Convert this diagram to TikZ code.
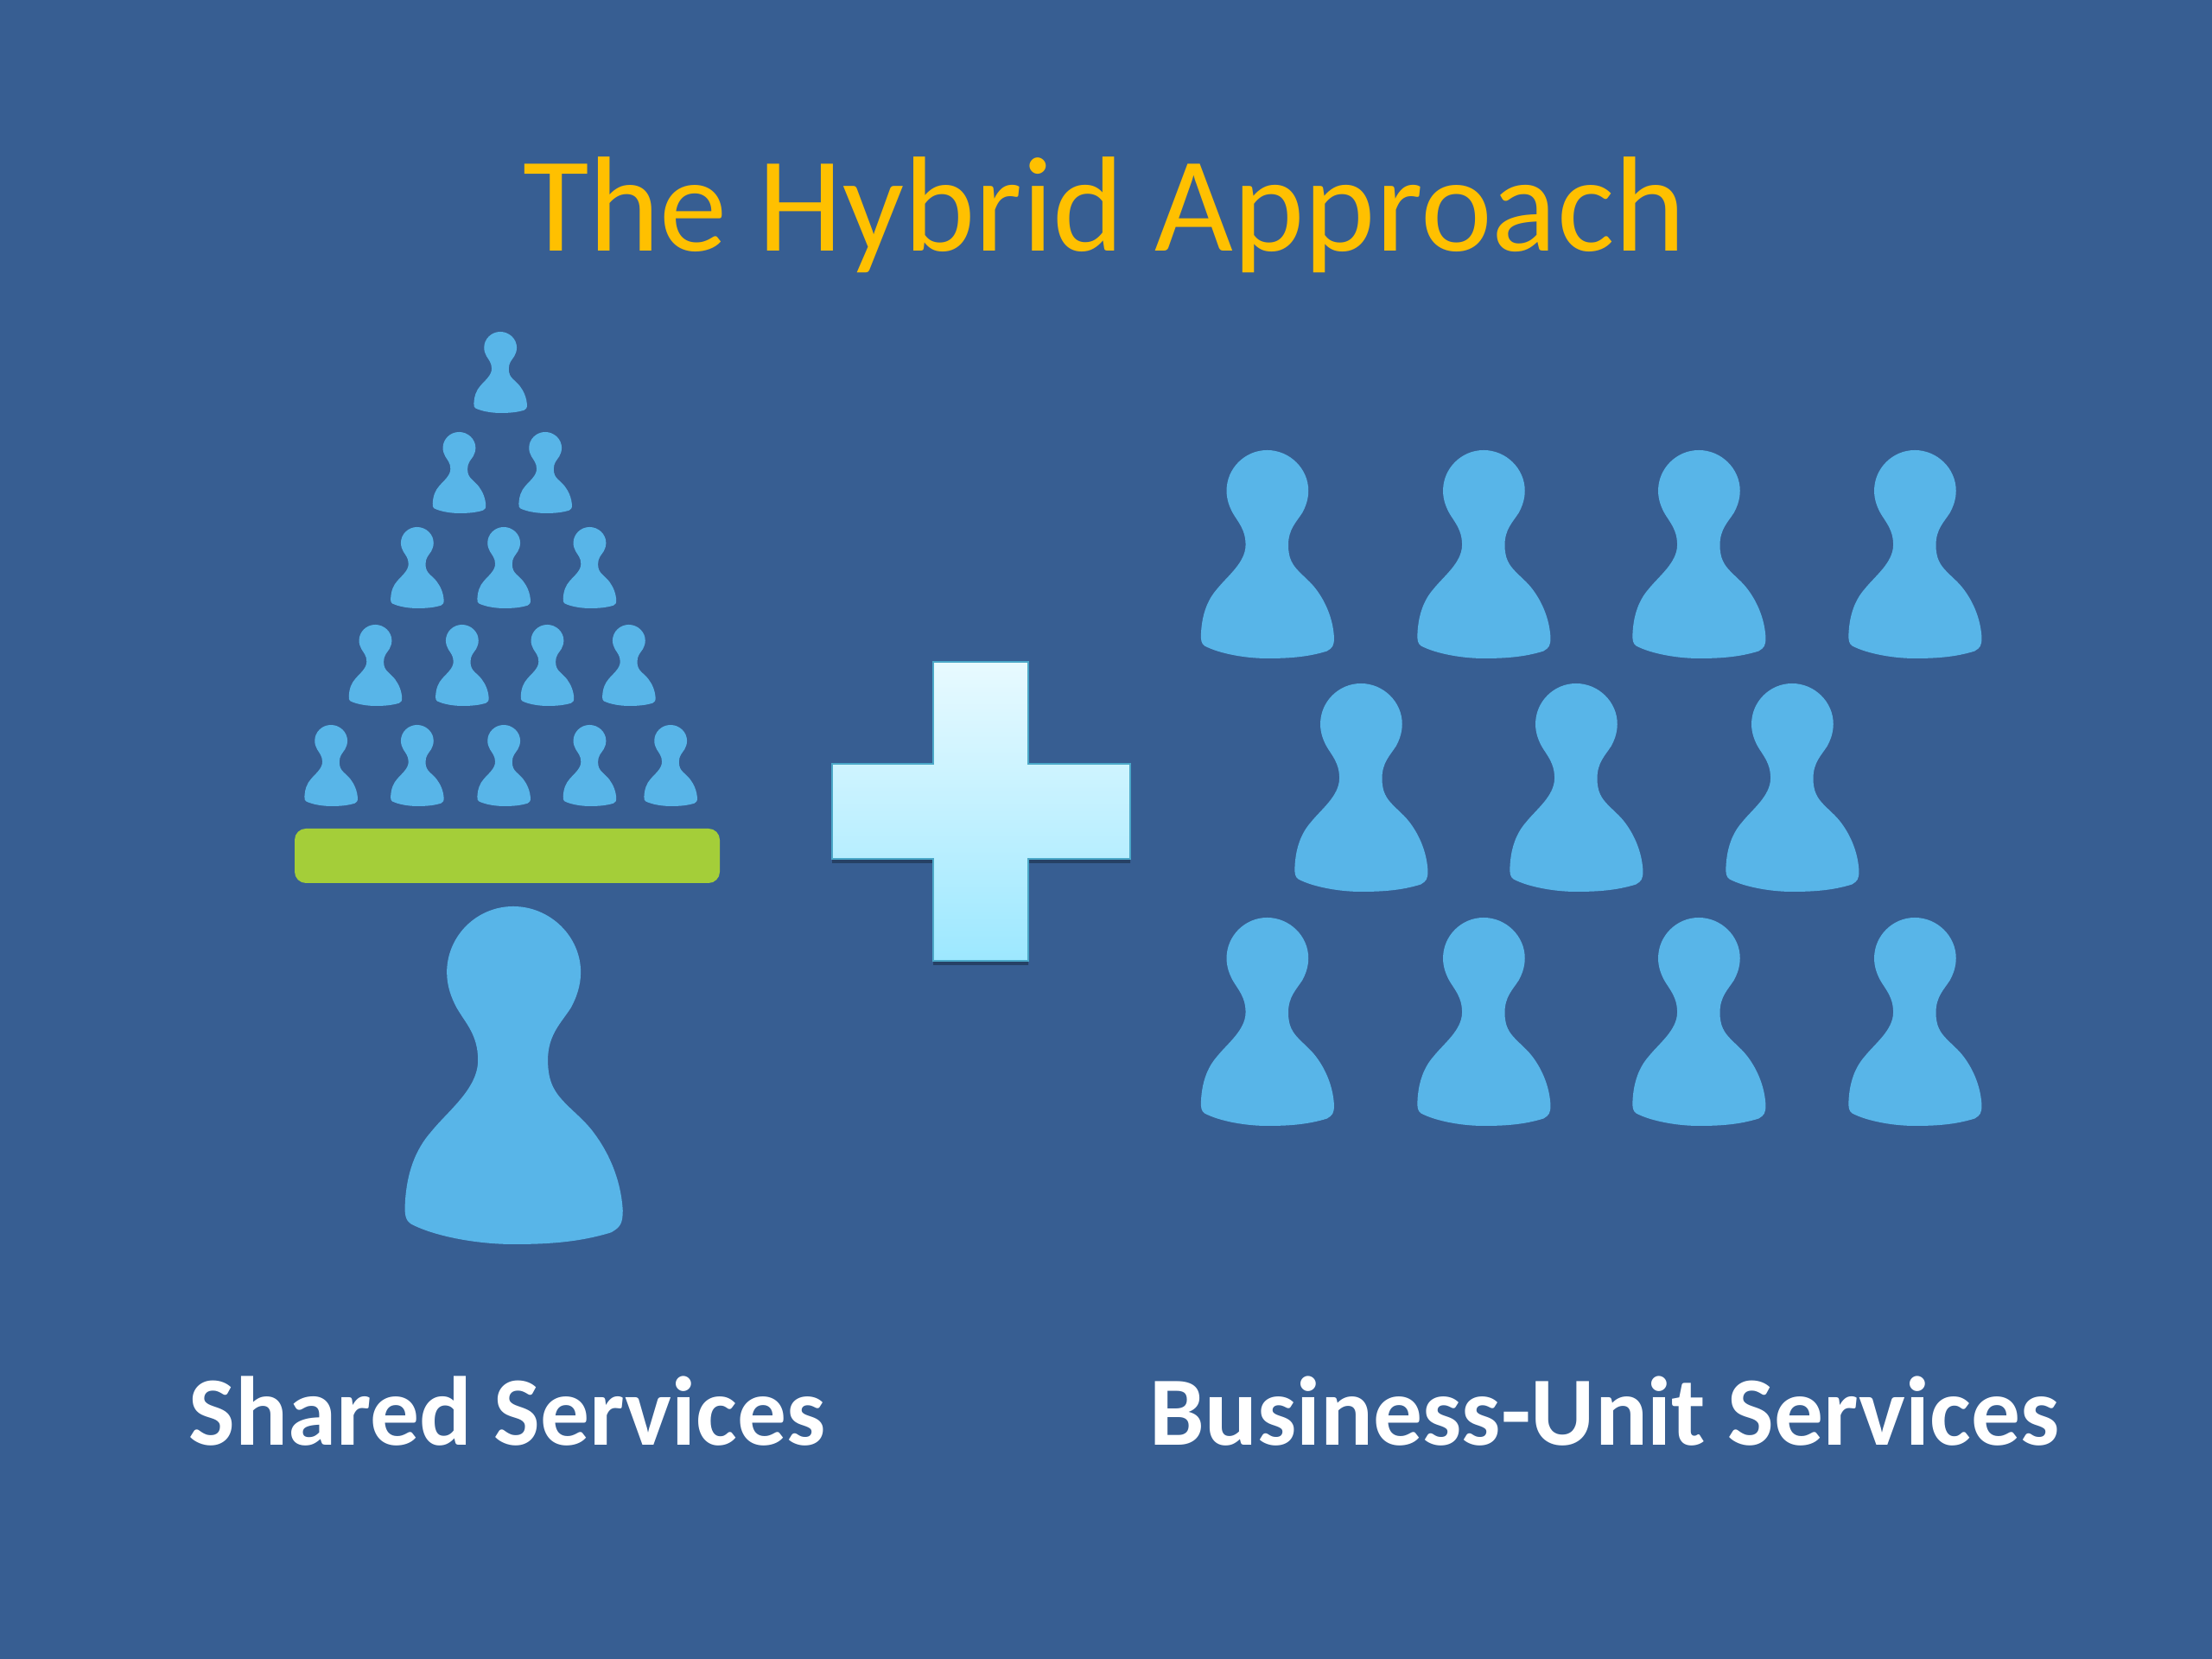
\documentclass[tikz,border=0pt]{standalone}
\usepackage{fontspec}
\setmainfont{Carlito}
\usetikzlibrary{shadows}
\definecolor{slideblue}{RGB}{55,94,146}
\definecolor{pawnblue}{RGB}{88,181,232}
\definecolor{bargreen}{RGB}{164,206,57}
\definecolor{titleyellow}{RGB}{255,192,0}
\definecolor{plustop}{RGB}{232,250,255}
\definecolor{plusbottom}{RGB}{157,232,255}
\definecolor{plusedge}{RGB}{75,168,200}
\tikzset{
pawn/.pic={
\fill[pawnblue] (.265,.70) .. controls (.22,.655) and (.159,.62) .. (.159,.545)
.. controls (.159,.48) and (.19,.45) .. (.238,.418)
.. controls (.28,.39) and (.33,.365) .. (.37,.33)
.. controls (.44,.27) and (.495,.19) .. (.503,.10)
.. controls (.503,.06) and (.49,.05) .. (.45,.035)
.. controls (.3,.005) and (.15,0) .. (0,0)
.. controls (-.15,0) and (-.35,.02) .. (-.47,.06)
.. controls (-.495,.07) and (-.5,.09) .. (-.497,.12)
.. controls (-.49,.21) and (-.45,.28) .. (-.377,.333)
.. controls (-.30,.395) and (-.162,.46) .. (-.162,.545)
.. controls (-.162,.62) and (-.22,.655) .. (-.26,.70)
.. controls (-.285,.73) and (-.305,.765) .. (-.305,.805)
.. controls (-.305,.912) and (-.168,1) .. (0,1)
.. controls (.168,1) and (.31,.912) .. (.31,.805)
.. controls (.31,.765) and (.29,.73) .. (.265,.70) -- cycle;
},
small pawn/.style={xscale=.615, yscale=.94}, % the pyramid
middle pawn/.style={xscale=1.54, yscale=2.41}, % the business units
big pawn/.style={xscale=2.52, yscale=3.91}, % under the bar
title text/.style={text=titleyellow, font=\fontsize{44.6}{50}\selectfont, anchor=base},
label text/.style={text=white, font=\bfseries\fontsize{32.3}{38}\selectfont, anchor=base},
}
\begin{document}
\begin{tikzpicture}
\fill[slideblue] (0,0) rectangle (25.6,19.2);
\node[title text] (title) at (12.78,16.29) {The Hybrid Approach};
% pyramid, x then height of the foot
\foreach \x/\y in {5.79/14.42,
5.313/13.26, 6.31/13.26,
4.827/12.16, 5.83/12.16, 6.823/12.16,
4.343/11.03, 5.347/11.03, 6.333/11.03, 7.277/11.03,
3.83/9.87, 4.827/9.87, 5.83/9.87, 6.823/9.87, 7.76/9.87}
\pic[small pawn] at (\x,\y) {pawn};
\fill[bargreen, rounded corners=.13cm] (3.41,8.98) rectangle (8.33,9.61);
\pic[big pawn] at (5.94,4.8) {pawn};
% plus
\draw[draw=plusedge, line width=.5pt, top color=plustop, bottom color=plusbottom,
drop shadow={shadow xshift=0cm, shadow yshift=-.05cm, fill=black, opacity=.3}]
(10.8,10.36) -- (10.8,11.54) -- (11.9,11.54) -- (11.9,10.36) -- (13.08,10.36)
-- (13.08,9.26) -- (11.9,9.26) -- (11.9,8.08) -- (10.8,8.08) -- (10.8,9.26)
-- (9.63,9.26) -- (9.63,10.36) -- cycle;
% business units
\foreach \y in {11.58,6.17}
\foreach \x in {14.665,17.17,19.66,22.16}
\pic[middle pawn] at (\x,\y) {pawn};
\foreach \x in {15.75,18.24,20.74}
\pic[middle pawn] at (\x,8.88) {pawn};
\node[label text] (shared) at (5.87,2.47) {Shared Services};
\node[label text] (units) at (18.57,2.47) {Business-Unit Services};
\end{tikzpicture}
\end{document}
